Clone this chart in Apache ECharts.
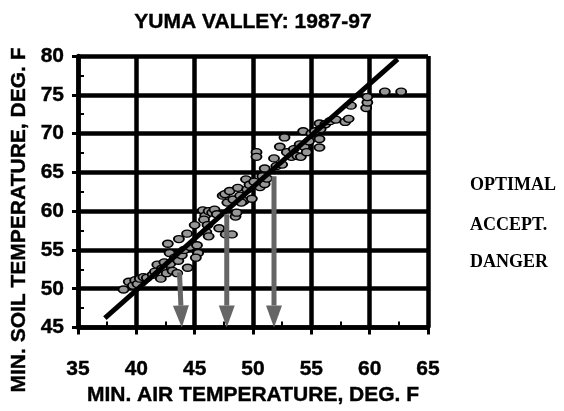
<!DOCTYPE html>
<html>
<head>
<meta charset="utf-8">
<script src="https://cdn.jsdelivr.net/npm/echarts@6/dist/echarts.min.js"></script>
<style>
html,body{margin:0;padding:0;background:#fff;}
#c{width:564px;height:411px;}
</style>
</head>
<body>
<div id="c"></div>
<script>
// ---- data ----
const airTemp = [38.9,39.35,39.7,39.9,40.1,40.3,40.6,40.9,41.4,41.6,41.8,42.1,42.2,42.4,42.6,42.7,42.85,42.9,43.1,43.3,43.5,43.6,43.65,43.9,44.1,44.35,44.4,44.6,45.0,45.2,45.3,45.1,
45.7,45.9,45.8,46.0,46.1,46.2,46.5,46.7,46.9,46.2,47.1,47.4,47.6,47.8,47.66,48.2,48.0,48.3,48.5,48.6,48.7,48.9,49.2,49.4,49.5,49.7,49.9,49.0,
50.1,50.3,50.3,50.6,50.8,51.0,51.0,51.2,51.8,52.0,52.3,52.5,52.7,52.9,53.3,53.5,53.8,54.0,54.1,54.3,54.4,54.6,54.8,55.0,55.3,55.7,55.7,55.7,55.8,56.2,56.6,57.1,57.9,58.2,58.4,59.7,59.8,59.8,61.3,62.7];
const soilTemp = [49.9,50.9,50.4,51.1,50.6,51.3,51.5,51.4,51.8,52.2,53.1,51.3,52.6,53.4,52.0,55.8,54.6,53.2,52.3,54.0,52.0,53.6,56.4,54.3,55.0,57.1,52.7,55.4,58.2,55.6,54.6,54.0,
60.1,59.4,58.9,57.3,58.2,60.0,59.8,60.2,59.6,56.75,57.8,62.0,62.2,61.1,57.0,57.0,62.6,61.5,59.3,59.8,63.0,62.0,61.3,64.1,62.8,63.4,61.6,61.1,
63.8,67.6,67.0,63.1,64.5,63.5,65.5,64.2,66.8,65.8,68.3,66.0,69.5,67.6,67.0,68.0,67.1,68.6,67.0,70.3,68.3,67.6,69.0,70.0,70.3,71.3,69.3,68.2,70.6,71.2,71.6,71.8,71.5,71.9,73.6,73.3,74.0,74.7,75.4,75.4];
const fitX = [37.3, 62.4];
const fitY = [46.2, 79.6];
const arrowTopX = [43.7, 47.75, 51.8];
const arrowTopY = [52.1, 59.6, 64.5];
const arrowBotX = [43.9, 47.75, 51.8];
const arrowBotY = [45, 45, 45];
const xTickValues = [35, 40, 45, 50, 55, 60, 65];
const yTickValues = [45, 50, 55, 60, 65, 70, 75, 80];
const zoneLabels = ['OPTIMAL', 'ACCEPT.', 'DANGER'];
const titleText = 'YUMA VALLEY: 1987-97';
const xName = 'MIN. AIR TEMPERATURE, DEG. F';
const yName = 'MIN. SOIL TEMPERATURE, DEG. F';

const chart = echarts.init(document.getElementById('c'), null, {renderer: 'canvas'});
const font = 'Liberation Sans, Arial, sans-serif';
const scatterData = airTemp.map((x, i) => [x, soilTemp[i]]);
const arrowData = arrowTopX.map((x, i) => [x, arrowTopY[i], arrowBotX[i], arrowBotY[i]]);
const boldText = {fontFamily: font, fontWeight: 'bold', fontSize: 21, color: '#000', textBorderColor: '#000', textBorderWidth: 0.4};

const option = {
  animation: false,
  backgroundColor: '#fff',
  grid: {left: 78, top: 56, width: 350, height: 279, containLabel: false},
  xAxis: [{
    type: 'value', min: 35, max: 65, interval: 5, position: 'bottom',
    name: xName, nameLocation: 'middle', nameGap: 52,
    nameTextStyle: boldText,
    axisLine: {show: true, lineStyle: {color: '#000', width: 4.5}},
    axisTick: {show: true, inside: false, length: 7, lineStyle: {color: '#000', width: 3}},
    axisLabel: Object.assign({margin: 31, formatter: v => xTickValues.includes(v) ? String(v) : ''}, boldText),
    splitLine: {show: true, lineStyle: {color: '#000', width: 4.5}}
  }, {
    type: 'value', min: 35, max: 65, interval: 2.5, position: 'bottom',
    axisLine: {show: false}, axisLabel: {show: false}, splitLine: {show: false},
    axisTick: {show: true, inside: true, length: 6, lineStyle: {color: '#000', width: 2}}
  }],
  yAxis: [{
    type: 'value', min: 45, max: 80, interval: 5, position: 'left',
    axisLine: {show: true, lineStyle: {color: '#000', width: 4.5}},
    axisTick: {show: true, inside: false, length: 6, lineStyle: {color: '#000', width: 3}},
    axisLabel: Object.assign({margin: 14, formatter: v => yTickValues.includes(v) ? String(v) : ''}, boldText),
    splitLine: {show: true, lineStyle: {color: '#000', width: 4.5}}
  }, {
    type: 'value', min: 45, max: 80, interval: 2.5, position: 'left',
    axisLine: {show: false}, axisLabel: {show: false}, splitLine: {show: false},
    axisTick: {show: true, inside: true, length: 6, lineStyle: {color: '#000', width: 2}}
  }],
  series: [{
    type: 'scatter', xAxisIndex: 0, yAxisIndex: 0,
    data: scatterData, symbol: 'circle', symbolSize: [10, 7],
    itemStyle: {color: '#969696', borderColor: '#000', borderWidth: 1.6, opacity: 1},
    z: 3
  }, {
    type: 'line', xAxisIndex: 0, yAxisIndex: 0,
    data: fitX.map((x, i) => [x, fitY[i]]), symbol: 'none',
    lineStyle: {color: '#000', width: 5}, z: 4
  }, {
    type: 'custom', xAxisIndex: 0, yAxisIndex: 0, z: 5,
    data: arrowData,
    renderItem: function (params, api) {
      const top = api.coord([api.value(0), api.value(1)]);
      const tip = api.coord([api.value(2), api.value(3)]);
      const headLen = 22, headHalf = 8;
      const dx = tip[0] - top[0], dy = tip[1] - top[1];
      const len = Math.sqrt(dx * dx + dy * dy);
      const ux = dx / len, uy = dy / len;
      const base = [tip[0] - ux * headLen, tip[1] - uy * headLen];
      return {
        type: 'group',
        children: [{
          type: 'line',
          shape: {x1: top[0], y1: top[1], x2: base[0], y2: base[1]},
          style: {stroke: '#666', lineWidth: 5}
        }, {
          type: 'polygon',
          shape: {points: [tip, [base[0] - uy * headHalf, base[1] + ux * headHalf], [base[0] + uy * headHalf, base[1] - ux * headHalf]]},
          style: {fill: '#666'}
        }]
      };
    }
  }],
  graphic: [{
    type: 'text', x: 253, y: 22,
    style: {text: titleText, font: 'bold 21px "Liberation Sans", Arial, sans-serif', fill: '#000',
      stroke: '#000', lineWidth: 0.4, align: 'center', verticalAlign: 'middle'}
  }, {
    type: 'text', x: 19, y: 220, rotation: Math.PI / 2,
    style: {text: yName, font: 'bold 21px "Liberation Sans", Arial, sans-serif', fill: '#000',
      stroke: '#000', lineWidth: 0.4, align: 'center', verticalAlign: 'middle'}
  }].concat(zoneLabels.map((t, i) => ({
    type: 'text', x: 470, y: [185, 225, 262][i],
    style: {text: t, font: 'bold 18px "Liberation Serif", "Times New Roman", serif', fill: '#000',
      align: 'left', verticalAlign: 'middle'}
  })))
};
chart.setOption(option);
</script>
</body>
</html>
